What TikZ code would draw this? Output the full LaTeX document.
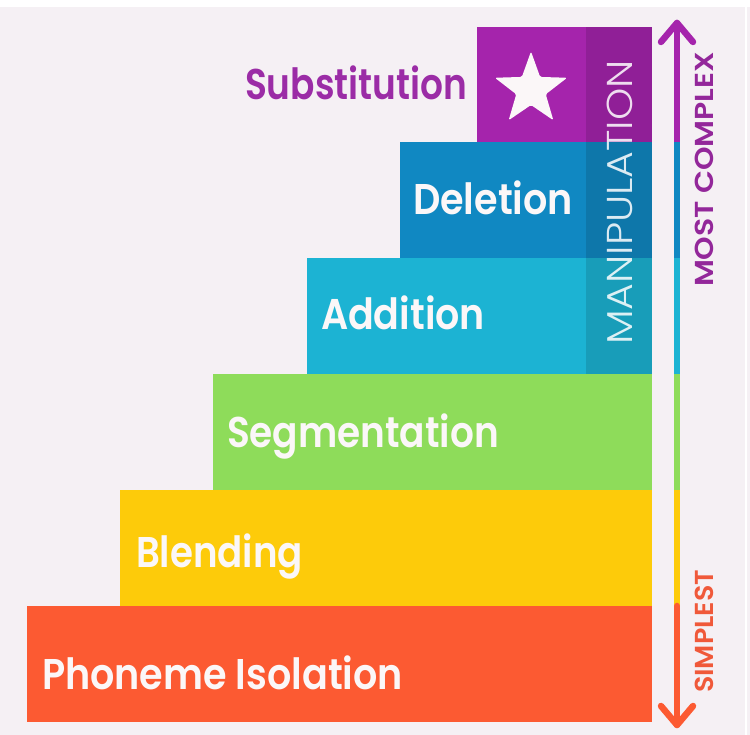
\documentclass[tikz,border=0pt]{standalone}
\usepackage{fontspec}
\setmainfont{Poppins}[BoldFont={Poppins SemiBold}]
\newfontfamily\thinfont{Poppins Light}
\usetikzlibrary{shapes.geometric}
\definecolor{bg}{HTML}{F5F0F4}
\definecolor{cSub}{HTML}{A524AC}
\definecolor{cDel}{HTML}{1088C2}
\definecolor{cAdd}{HTML}{1CB3D3}
\definecolor{cSeg}{HTML}{8EDC5A}
\definecolor{cBle}{HTML}{FDCB0A}
\definecolor{cPho}{HTML}{FC5A32}
\definecolor{tSub}{HTML}{9B2CA6}
\definecolor{tMost}{HTML}{93279A}
\definecolor{tSimp}{HTML}{F0593A}
\definecolor{offw}{HTML}{FBF7F8}
\newcommand\fitw[2]{\resizebox{#1}{\height}{#2}}
\begin{document}
\begin{tikzpicture}[x=1pt,y=1pt,
  stepbox/.style={draw=none, inner sep=0, outer sep=0, anchor=north west},
  lab/.style={inner sep=0, outer sep=0, anchor=base west, text=offw, font=\bfseries\fontsize{43}{43}\selectfont},
  side/.style={inner sep=0, outer sep=0, anchor=base west, rotate=90, font=\bfseries\fontsize{26}{26}\selectfont},
  scaleline/.style={line width=6.5pt}]
\useasboundingbox (0,0) rectangle (750,735);
\fill[bg] (0,0) rectangle (750,735);
\fill[white] (0,728) rectangle (750,735);
\draw[white, line width=1.5pt] (746,0) -- (746,728);

% steps
\node[stepbox, fill=cSub, minimum width=175, minimum height=115] (sub) at (477,708) {};
\node[stepbox, fill=cDel, minimum width=252, minimum height=116] (del) at (400,593) {};
\node[stepbox, fill=cAdd, minimum width=345, minimum height=116] (add) at (307,477) {};
\node[stepbox, fill=cSeg, minimum width=439, minimum height=116] (seg) at (213,361) {};
\node[stepbox, fill=cBle, minimum width=532, minimum height=116] (ble) at (120,245) {};
\node[stepbox, fill=cPho, minimum width=625, minimum height=116] (pho) at (27,129) {};

% manipulation band
\node[stepbox, fill=black, fill opacity=0.12, minimum width=66, minimum height=347] (band) at (586,708) {};
\node[side, font=\thinfont\fontsize{36}{36}\selectfont, text=white, text opacity=0.85] (manip) at (632,390) {\fitw{285pt}{MANIPULATION}};

% star
\node[star, star points=5, star point ratio=2.45, fill=offw, minimum size=76pt, inner sep=0, rounded corners=1.5pt] (star) at (531,645.5) {};

% labels
\node[lab, text=tSub] (lsub) at (245,635) {\fitw{222pt}{Substitution}};
\node[lab] (ldel) at (413,520) {\fitw{160pt}{Deletion}};
\node[lab] (ladd) at (321,405) {\fitw{164pt}{Addition}};
\node[lab] (lseg) at (227,287) {\fitw{272pt}{Segmentation}};
\node[lab] (lble) at (136,167) {\fitw{167pt}{Blending}};
\node[lab] (lpho) at (42,45) {\fitw{361pt}{Phoneme Isolation}};

% scale arrow
\coordinate (a0) at (677,712);
\coordinate (a1) at (677,593);
\coordinate (a2) at (677,477);
\coordinate (a3) at (677,361);
\coordinate (a4) at (677,245);
\coordinate (a5) at (677,129);
\coordinate (a6) at (677,10);
\draw[scaleline, cSub, line cap=round] (a0) -- (a1);
\draw[scaleline, cDel] (a1) -- (a2);
\draw[scaleline, cAdd] (a2) -- (a3);
\draw[scaleline, cSeg] (a3) -- (a4);
\draw[scaleline, cBle] (a4) -- (a5);
\draw[scaleline, cPho, line cap=round] (a5) -- (a6);
\draw[scaleline, cSub, line cap=round, line join=round] ([shift={(-16,-19)}]a0) -- (a0) -- ([shift={(16,-19)}]a0);
\draw[scaleline, cPho, line cap=round, line join=round] ([shift={(-16,19)}]a6) -- (a6) -- ([shift={(16,19)}]a6);

% side texts
\node[side, text=tMost] (most) at (713,448) {\fitw{235pt}{MOST COMPLEX}};
\node[side, text=tSimp] (simp) at (713,42) {\fitw{123pt}{SIMPLEST}};
\end{tikzpicture}
\end{document}
